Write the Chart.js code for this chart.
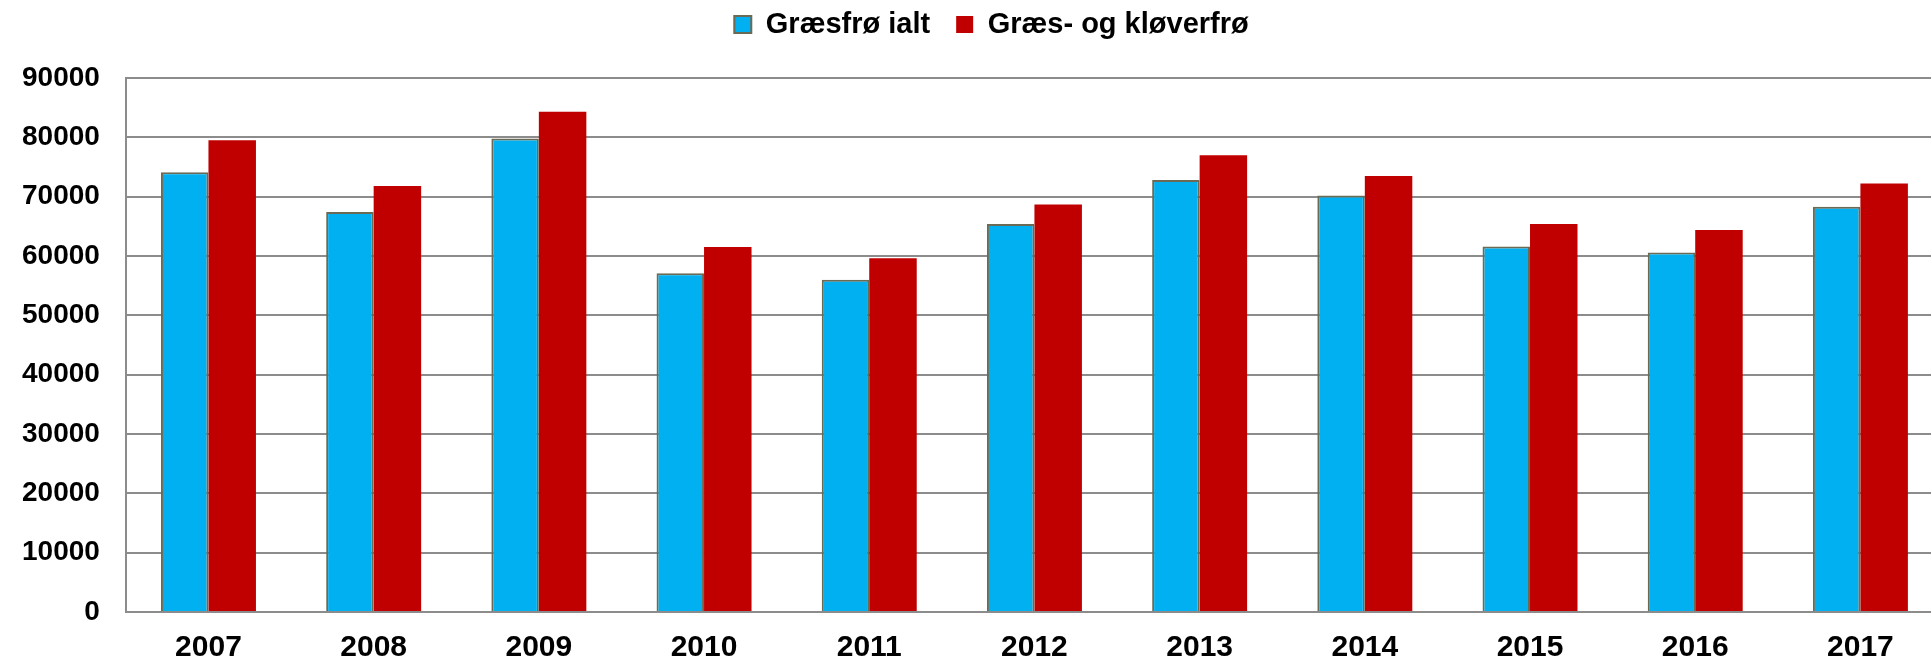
<!DOCTYPE html>
<html>
<head>
    <title>Græsfrø</title>
    <script src="https://cdn.jsdelivr.net/npm/chart.js"></script>
    <style>
        body { margin: 0; overflow: hidden; background: #fff; }
        #wrap { position: absolute; left: 0; top: 0; width: 1993px; height: 663px; }
    </style>
</head>
<body>
    <div id="wrap"><canvas id="seedChart"></canvas></div>

    <script>
        var years = ['2007', '2008', '2009', '2010', '2011', '2012', '2013', '2014', '2015', '2016', '2017'];
        var graesfroIalt = [74100, 67400, 79800, 57100, 56000, 65400, 72800, 70200, 61600, 60600, 68300];
        var graesOgKloever = [79500, 71800, 84300, 61500, 59600, 68700, 77000, 73500, 65400, 64400, 72200];
        var seriesNames = ['Græsfrø ialt', 'Græs- og kløverfrø'];

        var fontFamily = "'Liberation Sans', Arial, sans-serif";
        var gridGray = '#8c8c8c';

        // extra room under the legend, and nudge the legend a little to the right
        var legendTweak = {
            id: 'legendTweak',
            beforeInit: function (chart) {
                var fit = chart.legend.fit;
                chart.legend.fit = function () {
                    fit.bind(chart.legend)();
                    this.height += 29;
                };
            },
            afterLayout: function (chart) {
                chart.legend.left += 22;
                chart.legend.right += 22;
            }
        };

        var ctx = document.getElementById('seedChart').getContext('2d');

        var chart = new Chart(ctx, {
            type: 'bar',
            data: {
                labels: years,
                datasets: [{
                    label: seriesNames[0],
                    data: graesfroIalt,
                    backgroundColor: '#00b0f0',
                    borderColor: '#6b6b55',
                    borderWidth: 2
                }, {
                    label: seriesNames[1],
                    data: graesOgKloever,
                    backgroundColor: '#c00000',
                    borderWidth: 0
                }]
            },
            options: {
                responsive: true,
                maintainAspectRatio: false,
                animation: false,
                categoryPercentage: 0.575,
                barPercentage: 1.0,
                layout: {
                    padding: { top: -16, left: -4, right: 50, bottom: -21 }
                },
                plugins: {
                    tooltip: { enabled: false },
                    legend: {
                        position: 'top',
                        labels: {
                            boxWidth: 17,
                            boxHeight: 17,
                            padding: 26,
                            color: '#000',
                            font: { family: fontFamily, size: 29, weight: 'bold' }
                        }
                    }
                },
                scales: {
                    x: {
                        grid: { display: false, drawTicks: false },
                        border: { display: true, color: gridGray, width: 2 },
                        ticks: {
                            color: '#000',
                            padding: 21,
                            font: { family: fontFamily, size: 30, weight: 'bold', lineHeight: 1 }
                        }
                    },
                    y: {
                        min: 0,
                        max: 90000,
                        grid: { color: gridGray, lineWidth: 2, drawTicks: false },
                        border: { display: true, color: gridGray, width: 2 },
                        ticks: {
                            stepSize: 10000,
                            color: '#000',
                            padding: 26,
                            font: { family: fontFamily, size: 28, weight: 'bold', lineHeight: 1 },
                            callback: function (value) { return String(value); }
                        }
                    }
                }
            },
            plugins: [legendTweak]
        });
    </script>
</body>
</html>
